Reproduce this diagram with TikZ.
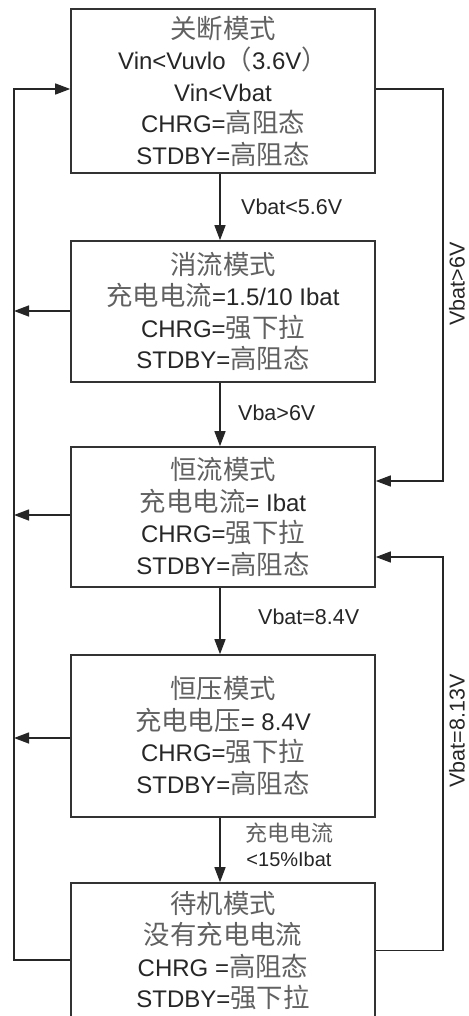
\documentclass[tikz,border=0pt]{standalone}
\usepackage{fontspec}
\setmainfont{Liberation Sans}
\newfontfamily\cjk[Scale=1.1]{Noto Sans CJK SC}
\usetikzlibrary{arrows.meta,calc}
\newcommand\zh[1]{{\cjk\color{black!62}#1}}
\tikzset{
  x=1pt, y=-1pt,
  modebox/.style={draw=black!80, line width=1.6pt, fill=white, inner sep=0pt,
    minimum width=304pt, align=center, text=black!85,
    font=\fontsize{24}{31.5}\selectfont},
  conn/.style={draw=black!85, line width=1.4pt},
  arr/.style={conn, -{Triangle[length=15pt,width=11pt]}},
  lbl/.style={font=\fontsize{21.5}{25}\selectfont, text=black!85, inner sep=0pt},
}
\begin{document}
\begin{tikzpicture}
\useasboundingbox (0,0) rectangle (468,1016);
\clip (0,0) rectangle (468,1016);
\fill[white] (0,0) rectangle (468,1016);

\node[modebox, minimum height=164pt] (b1) at (223,91)
  {\zh{关断模式}\\Vin<Vuvlo\zh{（}3.6V\zh{）}\\Vin<Vbat\\CHRG=\zh{高阻态}\\STDBY=\zh{高阻态}};
\node[modebox, minimum height=141pt] (b2) at (223,311.5)
  {\zh{消流模式}\\\zh{充电电流}=1.5/10 Ibat\\CHRG=\zh{强下拉}\\STDBY=\zh{高阻态}};
\node[modebox, minimum height=140pt] (b3) at (223,517)
  {\zh{恒流模式}\\\zh{充电电流}= Ibat\\CHRG=\zh{强下拉}\\STDBY=\zh{高阻态}};
\node[modebox, minimum height=162pt] (b4) at (223,736)
  {\zh{恒压模式}\\\zh{充电电压}= 8.4V\\CHRG=\zh{强下拉}\\STDBY=\zh{高阻态}};
\node[modebox, minimum height=135pt] (b5) at (223,950.5)
  {\zh{待机模式}\\\zh{没有充电电流}\\CHRG =\zh{高阻态}\\STDBY=\zh{强下拉}};

\coordinate (L) at (14,0);
\coordinate (R) at (443,0);

% connection points on the boxes
\coordinate (b1w) at ($(b1.west)+(0,-2)$);
\coordinate (b1e) at ($(b1.east)+(0,-2)$);
\coordinate (b2w) at ($(b2.west)+(0,-0.5)$);
\coordinate (b3w) at ($(b3.west)+(0,-2)$);
\coordinate (b3ea) at ($(b3.east)+(0,-36)$);
\coordinate (b3eb) at ($(b3.east)+(0,40)$);
\coordinate (b4w) at ($(b4.west)+(0,2)$);
\coordinate (b5w) at ($(b5.west)+(0,9.5)$);
\coordinate (b5e) at (b5.east);

% downward transitions
\draw[arr] ($(b1.south)+(-3,0)$) -- ($(b2.north)+(-3,0)$);
\draw[arr] ($(b2.south)+(-3,0)$) -- ($(b3.north)+(-3,0)$);
\draw[arr] ($(b3.south)+(-3,0)$) -- ($(b4.north)+(-3,0)$);
\draw[arr] ($(b4.south)+(-3,0)$) -- ($(b5.north)+(-3,0)$);

\node[lbl, anchor=west] (t1) at (241,207) {Vbat<5.6V};
\node[lbl, anchor=west] (t2) at (238,413) {Vba>6V};
\node[lbl, anchor=west] (t3) at (258,617) {Vbat=8.4V};
\node[lbl, align=center, font=\fontsize{20}{25}\selectfont] (t4) at (289,845)
  {\zh{充电电流}\\<15\%Ibat};

% left return bus
\draw[arr] (b2w) -- (b2w -| L);
\draw[arr] (b3w) -- (b3w -| L);
\draw[arr] (b4w) -- (b4w -| L);
\draw[arr] (b5w) -- (b5w -| L) -- (b1w -| L) -- (b1w);

% right paths
\draw[arr] (b1e) -- (b1e -| R) -- (b3ea -| R) -- (b3ea);
\draw[arr] (b5e) -- (b5e -| R) -- (b3eb -| R) -- (b3eb);

\node[lbl, rotate=90] (r1) at (457,284) {Vbat>6V};
\node[lbl, rotate=90] (r2) at (457,731) {Vbat=8.13V};
\end{tikzpicture}
\end{document}
